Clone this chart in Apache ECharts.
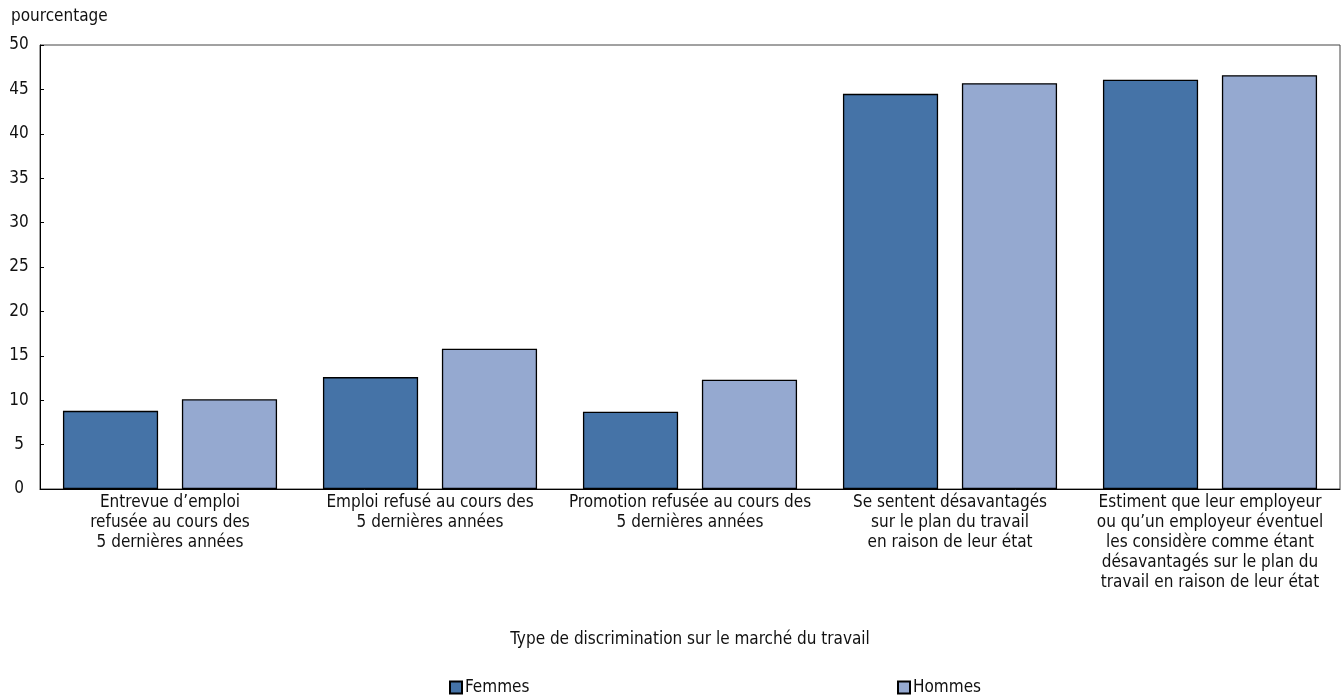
<!DOCTYPE html>
<html>
<head>
<meta charset="utf-8">
<script src="https://cdn.jsdelivr.net/npm/echarts@6/dist/echarts.min.js"></script>
<style>html,body{margin:0;padding:0;background:#fff}#c{width:1343px;height:698px}</style>
</head>
<body>
<div id="c"></div>
<script>
var categories = [
  "Entrevue d\u2019emploi\nrefusée au cours des\n5 dernières années",
  "Emploi refusé au cours des\n5 dernières années",
  "Promotion refusée au cours des\n5 dernières années",
  "Se sentent désavantagés\nsur le plan du travail\nen raison de leur état",
  "Estiment que leur employeur\nou qu\u2019un employeur éventuel\nles considère comme étant\ndésavantagés sur le plan du\ntravail en raison de leur état"
];
var femmes = [8.8, 12.6, 8.7, 44.5, 46.1];
var hommes = [10.1, 15.8, 12.3, 45.7, 46.6];
var yTicks = [0, 5, 10, 15, 20, 25, 30, 35, 40, 45, 50];

var FONT = "'Liberation Sans Narrow', 'DejaVu Sans Condensed', 'Roboto Condensed', sans-serif";
var chart = echarts.init(document.getElementById('c'));
chart.setOption({
  animation: false,
  textStyle: { fontFamily: FONT },
  title: {
    text: 'pourcentage', left: 6, top: 3,
    textStyle: { fontFamily: FONT, fontSize: 17, fontWeight: 'normal', color: '#111' }
  },
  grid: { left: 40, right: 3, top: 45, bottom: 209, show: true, borderColor: '#444', borderWidth: 1 },
  legend: [
    { data: ['Femmes'], left: 444, top: 674, icon: 'rect', itemWidth: 12, itemHeight: 12, itemGap: 4,
      textStyle: { fontFamily: FONT, fontSize: 17, color: '#111', padding: [0,0,0,-2] } },
    { data: ['Hommes'], left: 892, top: 674, icon: 'rect', itemWidth: 12, itemHeight: 12, itemGap: 4,
      textStyle: { fontFamily: FONT, fontSize: 17, color: '#111', padding: [0,0,0,-2] } }
  ],
  xAxis: {
    type: 'category', data: categories,
    name: 'Type de discrimination sur le marché du travail',
    nameLocation: 'middle', nameGap: 142,
    nameTextStyle: { fontFamily: FONT, fontSize: 17, color: '#111' },
    axisLine: { lineStyle: { color: '#000', width: 1 } },
    axisTick: { inside: true, length: 4, lineStyle: { color: '#000' } },
    axisLabel: { interval: 0, margin: 4, fontFamily: FONT, fontSize: 17, lineHeight: 20, color: '#111' }
  },
  yAxis: {
    type: 'value', min: 0, max: 50, interval: 5,
    splitLine: { show: false },
    axisLine: { show: true, lineStyle: { color: '#000', width: 1 } },
    axisTick: { show: true, inside: true, length: 4, lineStyle: { color: '#000' } },
    axisLabel: { margin: 21, align: 'center', fontFamily: FONT, fontSize: 17, color: '#111',
      formatter: function (v) { return yTicks.indexOf(v) >= 0 ? String(v) : ''; } }
  },
  series: [
    { name: 'Femmes', type: 'bar', data: femmes, barWidth: '36.6%', barGap: '25%',
      itemStyle: { color: '#4573a7', borderColor: '#000', borderWidth: 1.3 } },
    { name: 'Hommes', type: 'bar', data: hommes, barWidth: '36.6%', barGap: '25%',
      itemStyle: { color: '#95a9d0', borderColor: '#000', borderWidth: 1.3 } }
  ]
});
</script>
</body>
</html>
